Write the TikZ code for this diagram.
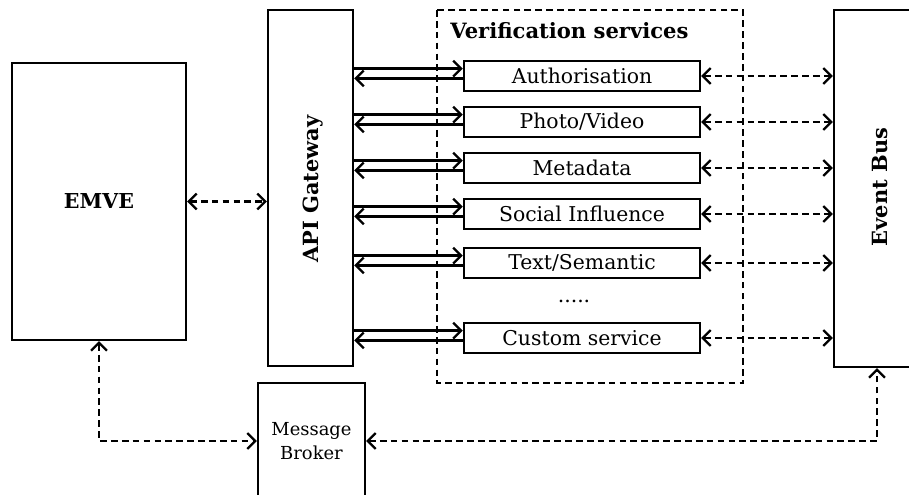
\documentclass[tikz,border=0pt]{standalone}
\usepackage{fontspec}
\setmainfont{DejaVu Serif}
\usetikzlibrary{arrows.meta,positioning,calc}

\tikzset{
  block/.style={draw, line width=1.4pt, fill=white, inner sep=0pt, align=center},
  svc/.style={block, minimum width=4.72cm, minimum height=0.6cm, font=\fontsize{11.6}{13}\selectfont},
  link/.style={line width=1.3pt, -{Straight Barb[length=4.5pt,width=9pt]}},
  dlink/.style={line width=1.3pt, dash pattern=on 3.8pt off 2.4pt,
    {Straight Barb[length=4.5pt,width=9pt]}-{Straight Barb[length=4.5pt,width=9pt]}}
}

\begin{document}
\begin{tikzpicture}[x=1cm, y=1cm]
\useasboundingbox (0,0) rectangle (18.18,-9.9);
% outer blocks
\node[block, minimum width=3.48cm, minimum height=5.54cm, font=\fontsize{11.7}{14}\bfseries] (emve) at (1.98,-4.03) {EMVE};
\node[block, minimum width=1.70cm, minimum height=7.12cm] (gateway) at (6.21,-3.76) {};
\node[font=\fontsize{11.9}{14}\bfseries, rotate=90] at (6.26,-3.78) {API Gateway};
\node[block, minimum width=1.84cm, minimum height=7.14cm] (bus) at (17.6,-3.77) {};
\node[font=\fontsize{11.9}{14}\bfseries, rotate=90] at (17.6,-3.74) {Event Bus};
\node[block, minimum width=2.14cm, minimum height=2.32cm, font=\fontsize{10.2}{13.5}\selectfont] (broker) at (6.23,-8.82) {Message\\Broker};
% verification services group
\draw[line width=1.3pt, dash pattern=on 3.8pt off 2.4pt] (8.74,-0.2) rectangle (14.86,-7.66);
\node[font=\fontsize{12}{14}\bfseries, anchor=west, inner sep=0pt] (title) at (9.0,-0.62) {Verification services};
\node[svc] (auth)   at (11.64,-1.52) {Authorisation};
\node[svc] (photo)  at (11.64,-2.44) {Photo/Video};
\node[svc] (meta)   at (11.64,-3.36) {Metadata};
\node[svc] (social) at (11.64,-4.28) {Social Influence};
\node[svc] (text)   at (11.64,-5.26) {Text/Semantic};
\node[font=\fontsize{11.6}{13}\selectfont] (dots) at (11.48,-6.02) {.....};
\node[svc] (custom) at (11.64,-6.76) {Custom service};
% gateway <-> services, services <-> bus
\foreach \s in {auth,photo,meta,social,text,custom}{
  \draw[link] ([yshift=4.2pt]\s.west -| gateway.east) -- ([yshift=4.2pt]\s.west);
  \draw[link] ([yshift=-1.4pt]\s.west) -- ([yshift=-1.4pt]\s.west -| gateway.east);
  \draw[dlink] (\s.east) -- (\s.east -| bus.west);
}
% EMVE, broker and bus
\draw[dlink] (emve.east) -- (emve.east -| gateway.west);
\draw[dlink] (emve.south) |- (broker.west);
\draw[dlink] (broker.east) -| ([xshift=-0.06cm]bus.south);
\end{tikzpicture}
\end{document}
